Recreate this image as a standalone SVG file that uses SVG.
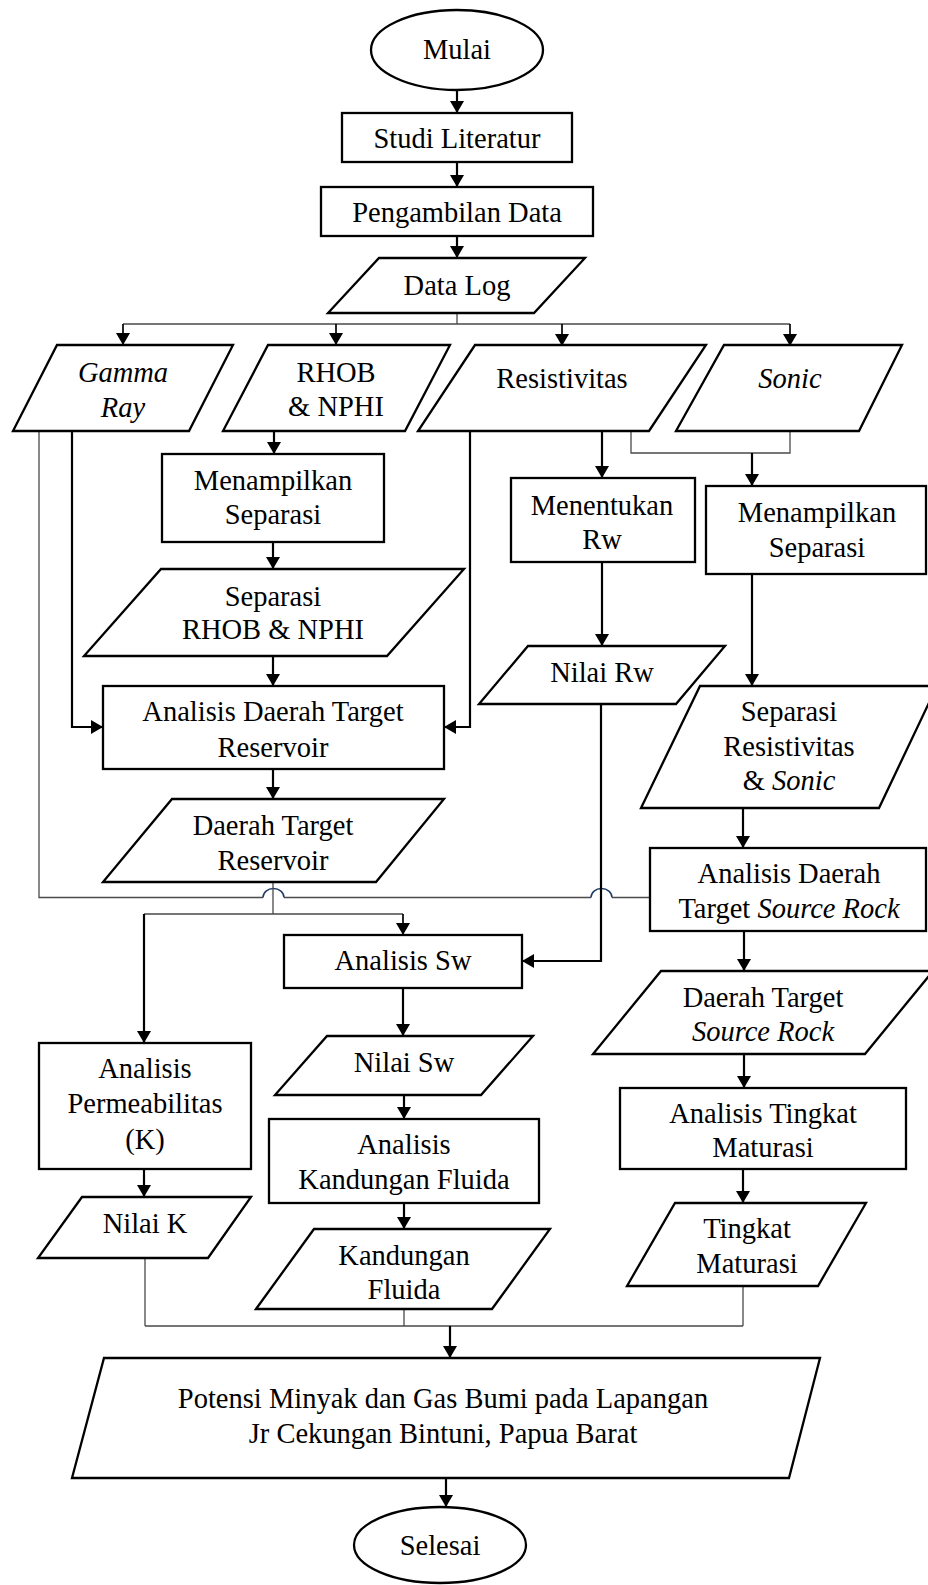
<svg xmlns="http://www.w3.org/2000/svg" width="928" height="1585" viewBox="0 0 928 1585">
<style>
.b{fill:#fff;stroke:#000;stroke-width:2.3}
.t{font-family:"Liberation Serif","Times New Roman",serif;font-size:28.5px;fill:#000;text-anchor:middle}
.i{font-style:italic}
.k{fill:none;stroke:#000;stroke-width:2.2}
.s{fill:none;stroke:#000;stroke-width:1.7}
.g{fill:none;stroke:#4a4a4a;stroke-width:1.3}
.h{fill:none;stroke:#1f3b63;stroke-width:1.5}
</style>
<defs>
<marker id="ah" viewBox="0 0 12 14" refX="12" refY="7" markerWidth="12" markerHeight="14" markerUnits="userSpaceOnUse" orient="auto"><path d="M0,0 L12,7 L0,14 z" fill="#000"/></marker>
</defs>
<rect width="928" height="1585" fill="#fff"/>
<g id="connectors">
<path class="k" d="M457,90 V113" marker-end="url(#ah)"/>
<path class="k" d="M457,162 V187" marker-end="url(#ah)"/>
<path class="k" d="M457,236 V258" marker-end="url(#ah)"/>
<path class="g" d="M457,313 V324 M123,324 H790"/>
<path class="s" d="M123,324 V345" marker-end="url(#ah)"/>
<path class="s" d="M336,324 V345" marker-end="url(#ah)"/>
<path class="s" d="M562,324 V346" marker-end="url(#ah)"/>
<path class="s" d="M790,324 V346" marker-end="url(#ah)"/>
<path class="k" d="M72,431 V727 H103" marker-end="url(#ah)"/>
<path class="g" d="M39,431 V897.5 H263 M284,897.5 H591 M612,897.5 H650"/>
<path class="h" d="M263,897.5 A10.5 9 0 0 1 284,897.5 M591,897.5 A10.5 9 0 0 1 612,897.5"/>
<path class="k" d="M274,431 V454" marker-end="url(#ah)"/>
<path class="k" d="M273,542 V569" marker-end="url(#ah)"/>
<path class="k" d="M273,656 V686" marker-end="url(#ah)"/>
<path class="k" d="M470,431 V727 H444" marker-end="url(#ah)"/>
<path class="k" d="M273,769 V799" marker-end="url(#ah)"/>
<path class="g" d="M273,882 V914 M144,914 H403"/>
<path class="k" d="M144,914 V1043" marker-end="url(#ah)"/>
<path class="s" d="M403,914 V935" marker-end="url(#ah)"/>
<path class="k" d="M602,431 V478" marker-end="url(#ah)"/>
<path class="g" d="M631,431 V453 H790 V431"/>
<path class="k" d="M752,453 V486" marker-end="url(#ah)"/>
<path class="k" d="M602,562 V646" marker-end="url(#ah)"/>
<path class="k" d="M752,574 V686" marker-end="url(#ah)"/>
<path class="k" d="M601,704 V961 H522" marker-end="url(#ah)"/>
<path class="k" d="M743,808 V848" marker-end="url(#ah)"/>
<path class="k" d="M744,931 V971" marker-end="url(#ah)"/>
<path class="k" d="M744,1054 V1088" marker-end="url(#ah)"/>
<path class="k" d="M743,1169 V1203" marker-end="url(#ah)"/>
<path class="k" d="M403,988 V1036" marker-end="url(#ah)"/>
<path class="k" d="M404,1095 V1119" marker-end="url(#ah)"/>
<path class="k" d="M404,1203 V1229" marker-end="url(#ah)"/>
<path class="k" d="M144,1169 V1197" marker-end="url(#ah)"/>
<path class="g" d="M145,1258 V1326 M404,1309 V1326 M743,1286 V1326 M145,1326 H743"/>
<path class="k" d="M450,1326 V1358" marker-end="url(#ah)"/>
<path class="k" d="M446,1478 V1507" marker-end="url(#ah)"/>
</g>
<g id="mulai"><ellipse class="b" cx="457" cy="50" rx="86" ry="40"/><text class="t" x="457" y="59">Mulai</text></g>
<g id="studi"><rect class="b" x="342" y="113" width="230" height="49"/><text class="t" x="457" y="148">Studi Literatur</text></g>
<g id="pengambilan"><rect class="b" x="321" y="187" width="272" height="49"/><text class="t" x="457" y="222">Pengambilan Data</text></g>
<g id="datalog"><polygon class="b" points="379,258 585,258 534,313 328,313"/><text class="t" x="457" y="295">Data Log</text></g>
<g id="gamma"><polygon class="b" points="57,345 233,345 189,431 13,431"/><text class="t i" x="123" y="382">Gamma</text><text class="t i" x="123" y="417">Ray</text></g>
<g id="rhob"><polygon class="b" points="268,345 450,345 405,431 223,431"/><text class="t" x="336" y="382">RHOB</text><text class="t" x="336" y="416">&amp; NPHI</text></g>
<g id="resistivitas"><polygon class="b" points="475,345 706,345 649,431 418,431"/><text class="t" x="562" y="388">Resistivitas</text></g>
<g id="sonic"><polygon class="b" points="724,345 902,345 859,431 676,431"/><text class="t i" x="790" y="388">Sonic</text></g>
<g id="menampilkan1"><rect class="b" x="162" y="454" width="222" height="88"/><text class="t" x="273" y="490">Menampilkan</text><text class="t" x="273" y="524">Separasi</text></g>
<g id="separasi1"><polygon class="b" points="161,569 464,569 387,656 84,656"/><text class="t" x="273" y="606">Separasi</text><text class="t" x="273" y="639">RHOB &amp; NPHI</text></g>
<g id="analisisreservoir"><rect class="b" x="103" y="686" width="341" height="83"/><text class="t" x="273" y="721">Analisis Daerah Target</text><text class="t" x="273" y="757">Reservoir</text></g>
<g id="daerahreservoir"><polygon class="b" points="172,799 444,799 376,882 103,882"/><text class="t" x="273" y="835">Daerah Target</text><text class="t" x="273" y="870">Reservoir</text></g>
<g id="menentukanrw"><rect class="b" x="511" y="478" width="184" height="84"/><text class="t" x="602" y="515">Menentukan</text><text class="t" x="602" y="549">Rw</text></g>
<g id="menampilkan2"><rect class="b" x="706" y="486" width="220" height="88"/><text class="t" x="817" y="522">Menampilkan</text><text class="t" x="817" y="557">Separasi</text></g>
<g id="nilairw"><polygon class="b" points="528,646 725,646 676,704 479,704"/><text class="t" x="602" y="682">Nilai Rw</text></g>
<g id="separasi2"><polygon class="b" points="700,686 937,686 879,808 641,808"/><text class="t" x="789" y="721">Separasi</text><text class="t" x="789" y="756">Resistivitas</text><text class="t" x="789" y="790">&amp; <tspan class="i">Sonic</tspan></text></g>
<g id="analisissource"><rect class="b" x="650" y="848" width="276" height="83"/><text class="t" x="789" y="883">Analisis Daerah</text><text class="t" x="789" y="918">Target <tspan class="i">Source Rock</tspan></text></g>
<g id="daerahsource"><polygon class="b" points="661,971 933,971 865,1054 593,1054"/><text class="t" x="763" y="1007">Daerah Target</text><text class="t i" x="763" y="1041">Source Rock</text></g>
<g id="analisistingkat"><rect class="b" x="620" y="1088" width="286" height="81"/><text class="t" x="763" y="1123">Analisis Tingkat</text><text class="t" x="763" y="1157">Maturasi</text></g>
<g id="tingkat"><polygon class="b" points="675,1203 866,1203 818,1286 627,1286"/><text class="t" x="747" y="1238">Tingkat</text><text class="t" x="747" y="1273">Maturasi</text></g>
<g id="analisissw"><rect class="b" x="284" y="935" width="238" height="53"/><text class="t" x="403" y="970">Analisis Sw</text></g>
<g id="nilaisw"><polygon class="b" points="327,1036 533,1036 481,1095 275,1095"/><text class="t" x="404" y="1072">Nilai Sw</text></g>
<g id="analisiskandungan"><rect class="b" x="269" y="1119" width="270" height="84"/><text class="t" x="404" y="1154">Analisis</text><text class="t" x="404" y="1189">Kandungan Fluida</text></g>
<g id="kandungan"><polygon class="b" points="314,1229 550,1229 492,1309 256,1309"/><text class="t" x="404" y="1265">Kandungan</text><text class="t" x="404" y="1299">Fluida</text></g>
<g id="analisisperm"><rect class="b" x="39" y="1043" width="212" height="126"/><text class="t" x="145" y="1078">Analisis</text><text class="t" x="145" y="1113">Permeabilitas</text><text class="t" x="145" y="1149">(K)</text></g>
<g id="nilaik"><polygon class="b" points="82,1197 251,1197 208,1258 38,1258"/><text class="t" x="145" y="1233">Nilai K</text></g>
<g id="potensi"><polygon class="b" points="104,1358 820,1358 789,1478 72,1478"/><text class="t" x="443" y="1408">Potensi Minyak dan Gas Bumi pada Lapangan</text><text class="t" x="443" y="1443">Jr Cekungan Bintuni, Papua Barat</text></g>
<g id="selesai"><ellipse class="b" cx="440" cy="1545" rx="86" ry="38"/><text class="t" x="440" y="1555">Selesai</text></g>
</svg>
